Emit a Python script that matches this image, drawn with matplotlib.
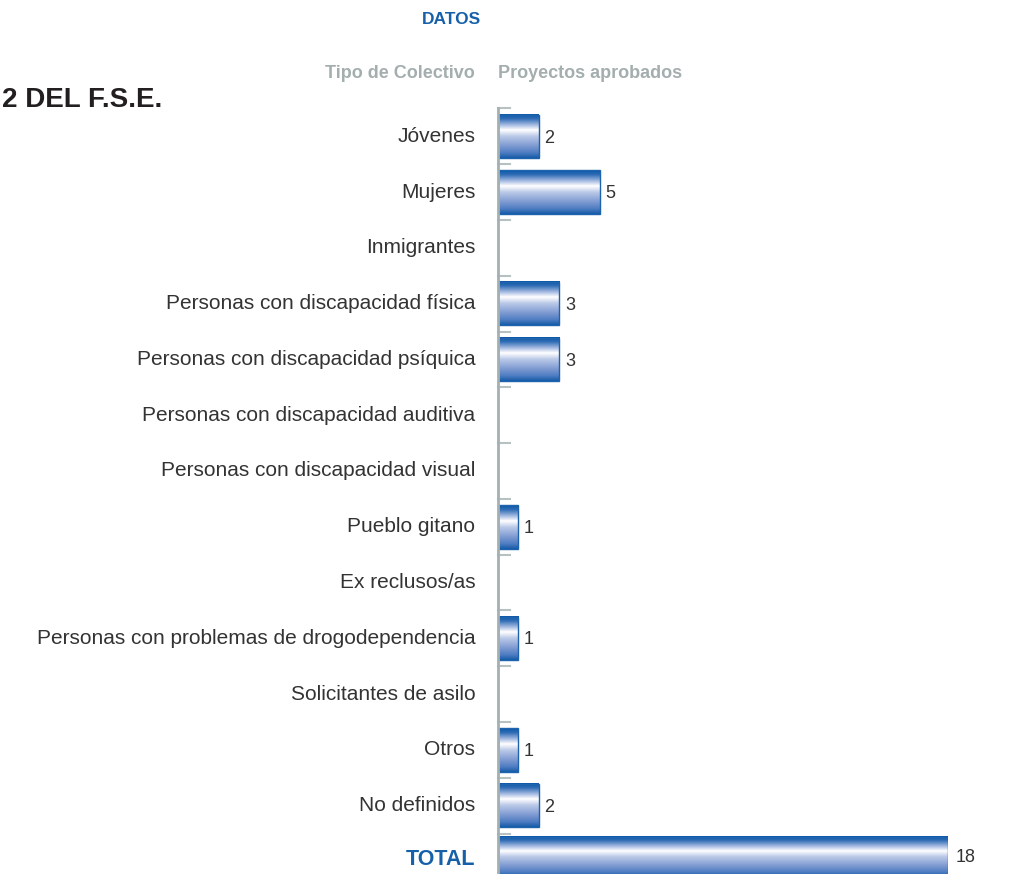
import numpy as np
import matplotlib.pyplot as plt
from matplotlib.colors import LinearSegmentedColormap
from matplotlib.patches import Rectangle

plt.rcParams['font.family'] = ['Liberation Sans', 'DejaVu Sans']

# data
colectivos = ["Jóvenes", "Mujeres", "Inmigrantes", "Personas con discapacidad física",
              "Personas con discapacidad psíquica", "Personas con discapacidad auditiva",
              "Personas con discapacidad visual", "Pueblo gitano", "Ex reclusos/as",
              "Personas con problemas de drogodependencia", "Solicitantes de asilo",
              "Otros", "No definidos"]
proyectos = [2, 5, 0, 3, 3, 0, 0, 1, 0, 1, 0, 1, 2]
total_label = "TOTAL"
total_value = 18

W, H = 1015, 874
fig = plt.figure(figsize=(W / 100, H / 100), dpi=100)

# bar gradient: dark edge, white highlight in the upper part
grad = LinearSegmentedColormap.from_list("bar", [
    (0.0, "#0a58a8"), (0.1, "#2f6cb5"), (0.25, "#a9bde3"), (0.36, "#ffffff"),
    (0.5, "#bccae8"), (0.72, "#7f9bd2"), (0.88, "#4f7dc2"), (1.0, "#165ca8")])
gvals = np.linspace(0, 1, 200).reshape(-1, 1)

axis_grey = "#a3b0b1"
tick_grey = "#b7c1c1"
text_col = "#333333"


def px_axes(x0, y0, x1, y1):
    # axes from pixel box (top-left origin)
    return fig.add_axes([x0 / W, 1 - y1 / H, (x1 - x0) / W, (y1 - y0) / H])


def draw_bars(ax, values, h=0.78):
    for i, v in enumerate(values):
        if v <= 0:
            continue
        ax.imshow(gvals, cmap=grad, aspect="auto", origin="upper",
                  extent=(0, v, i + h / 2, i - h / 2), zorder=2)
        ax.add_patch(Rectangle((0, i - h / 2), v, h, fill=False,
                               edgecolor="#1d63ad", lw=1.0, zorder=3))


def clean(ax):
    for s in ax.spines.values():
        s.set_visible(False)
    ax.set_xticks([])
    ax.set_yticks([])
    ax.patch.set_alpha(0)


# main chart
ax = px_axes(498, 108.5, 948, 833.5)
n = len(colectivos)
ax.set_xlim(0, 450 / 20.4)
ax.set_ylim(n - 0.5, -0.5)
clean(ax)
draw_bars(ax, proyectos)
for i, v in enumerate(proyectos):
    if v > 0:
        ax.text(v + 0.28, i + 0.03, str(v), va="center", ha="left", fontsize=13, color=text_col)
    ax.text(-1.12, i, colectivos[i], va="center", ha="right", fontsize=15, color=text_col)
for b in np.arange(-0.5, n, 1.0):
    ax.plot([0, 0.6], [b, b], color=tick_grey, lw=1.5, clip_on=False, zorder=1)

# total row, own scale
ax2 = px_axes(498, 832, 948, 882)
ax2.set_xlim(0, total_value)
ax2.set_ylim(0.5, -0.5)
clean(ax2)
draw_bars(ax2, [total_value], h=0.82)
ax2.text(total_value + 0.3, 0.0, str(total_value), va="center", ha="left", fontsize=13, color=text_col)
ax2.text(-0.9, 0.05, total_label, va="center", ha="right", fontsize=15.5,
         fontweight="bold", color="#1560a8")

# vertical axis line
fig.add_artist(plt.Line2D([498 / W, 498 / W], [1 - 108 / H, 0], color=axis_grey, lw=2))

# headers
fig.text(451 / W, 1 - 20 / H, "DATOS", ha="center", va="center", fontsize=12.5,
         fontweight="bold", color="#1560a8")
fig.text(475 / W, 1 - 74 / H, "Tipo de Colectivo", ha="right", va="center", fontsize=13,
         fontweight="bold", color="#a4aeae")
fig.text(498 / W, 1 - 74 / H, "Proyectos aprobados", ha="left", va="center", fontsize=13,
         fontweight="bold", color="#a4aeae")
fig.text(2 / W, 1 - 100 / H, "2 DEL F.S.E.", ha="left", va="center", fontsize=20,
         fontweight="bold", color="#231f20")

plt.savefig("out.png", dpi=100)
